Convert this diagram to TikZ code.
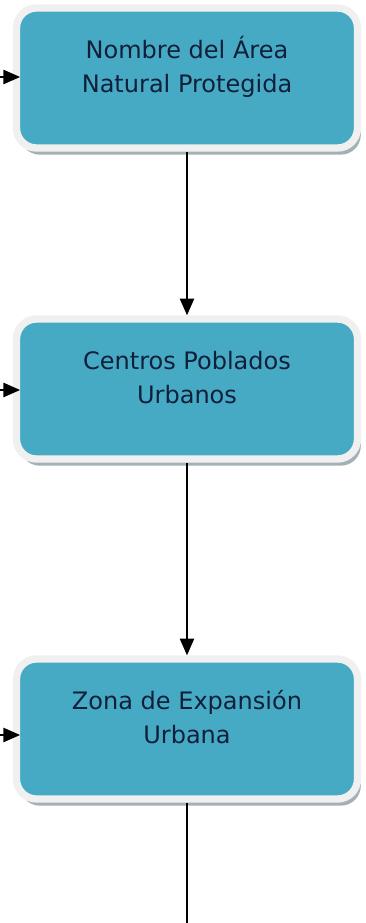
\documentclass[tikz,border=0pt]{standalone}
\usepackage{fontspec}
\setmainfont{DejaVu Sans}
\usetikzlibrary{arrows.meta, shadows}

\definecolor{boxteal}{HTML}{47AAC4}
\definecolor{boxrim}{HTML}{F0F0F0}
\definecolor{boxshade}{HTML}{A3B1B7}
\definecolor{boxink}{HTML}{10203A}

\begin{document}
\begin{tikzpicture}[x=0.03cm, y=-0.03cm,
		stage/.style={draw=boxrim, line width=0.22cm, fill=boxteal, rounded corners=0.6cm,
			minimum width=10.23cm, minimum height=4.2cm,
			drop shadow={shadow xshift=0.1cm, shadow yshift=-0.2cm, opacity=1, fill=boxshade}},
		stagetext/.style={align=center, text=boxink, font=\fontsize{20.5}{29}\selectfont},
		link/.style={draw, line width=1.9pt, -{Triangle[length=0.5cm, width=0.42cm]}}]
			\useasboundingbox (0, 0) rectangle (366, 923);
			
			\node [stage] (anp) at (187, 78) {};
			\node [stagetext] (anptext) at (187, 67) {Nombre del Área\\Natural Protegida};
			
			\node [stage] (cpu) at (187, 389) {};
			\node [stagetext] (cputext) at (187, 378) {Centros Poblados\\Urbanos};
			
			\node [stage] (zeu) at (187, 729) {};
			\node [stagetext] (zeutext) at (187, 717) {Zona de Expansión\\Urbana};
			
			\coordinate (anpin) at (0, 77);
			\coordinate (cpuin) at (0, 390);
			\coordinate (zeuin) at (0, 735);
			\coordinate (zeuout) at (187, 923);
			
			% entradas por la izquierda
			\draw [link, shorten >=-0.22cm] (anpin) -- (anpin -| anp.west);
			\draw [link, shorten >=-0.22cm] (cpuin) -- (cpuin -| cpu.west);
			\draw [link, shorten >=-0.22cm] (zeuin) -- (zeuin -| zeu.west);
			
			\draw [link] (anp.south) -- (cpu.north);
			\draw [link] (cpu.south) -- (zeu.north);
			\draw [line width=1.9pt] (zeu.south) -- (zeuout);
		\end{tikzpicture}
\end{document}
